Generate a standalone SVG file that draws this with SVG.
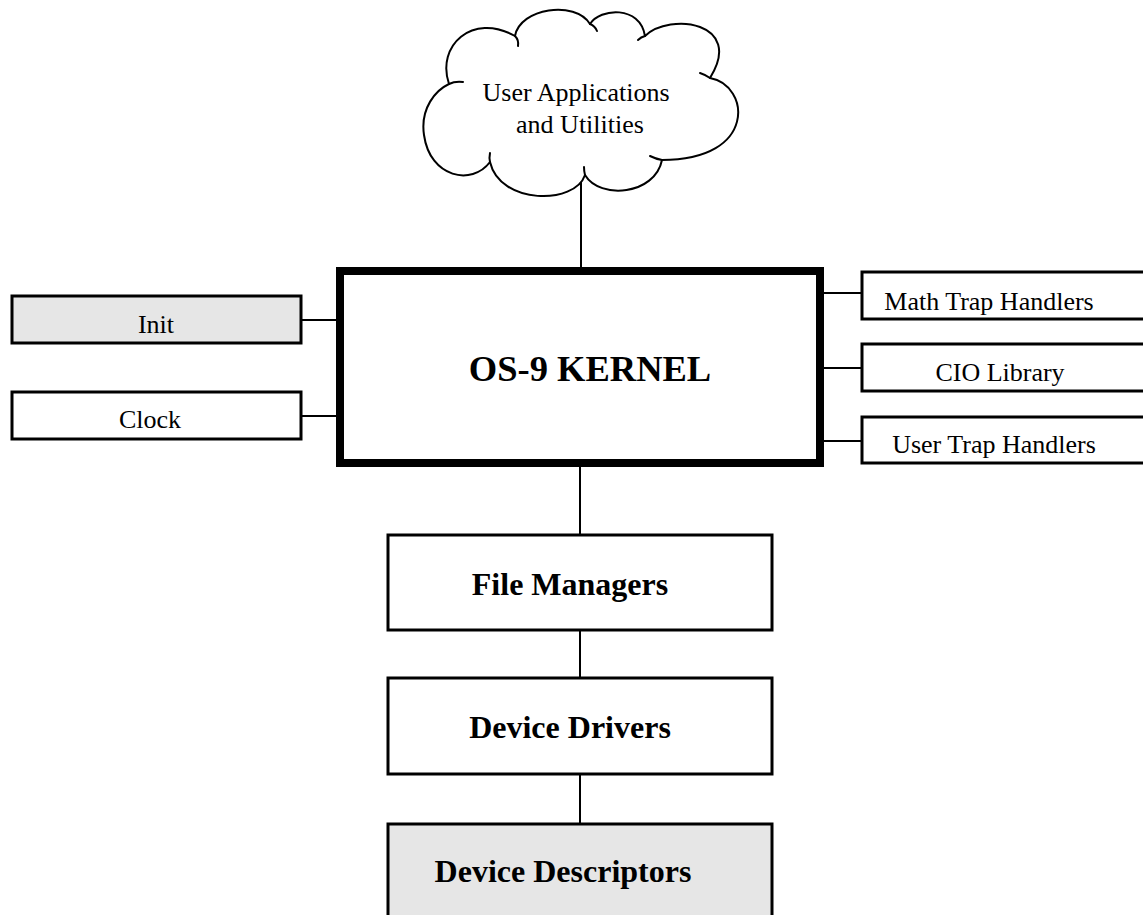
<svg xmlns="http://www.w3.org/2000/svg" width="1143" height="915" viewBox="0 0 1143 915">
  <style>
    .box { fill: #ffffff; stroke: #000000; stroke-width: 3; }
    .grey { fill: #e6e6e6; }
    .kernel { fill: #ffffff; stroke: #000000; stroke-width: 8; }
    .line { stroke: #000000; stroke-width: 2; fill: none; }
    .cloud { fill: #ffffff; stroke: #000000; stroke-width: 2; stroke-linejoin: round; }
    .hook { fill: none; stroke: #000000; stroke-width: 2; stroke-linecap: round; }
    .t { font-family: "Liberation Serif", "Times New Roman", serif; fill: #000000; text-anchor: middle; }
    .small { font-size: 26px; }
    .big { font-size: 32px; font-weight: bold; }
    .huge { font-size: 36.5px; font-weight: bold; }
  </style>

  <g id="connectors">
    <line class="line" x1="581" y1="176" x2="581" y2="268"/>
    <line class="line" x1="580" y1="466" x2="580" y2="536"/>
    <line class="line" x1="580" y1="630" x2="580" y2="678"/>
    <line class="line" x1="580" y1="774" x2="580" y2="823"/>
    <line class="line" x1="301" y1="320" x2="337" y2="320"/>
    <line class="line" x1="301" y1="416" x2="337" y2="416"/>
    <line class="line" x1="823" y1="293" x2="862" y2="293"/>
    <line class="line" x1="823" y1="368" x2="862" y2="368"/>
    <line class="line" x1="823" y1="441" x2="862" y2="441"/>
  </g>

  <g id="cloud-user-apps">
    <path class="cloud" d="M449,84 C436,46 472,12 515,36 C520,8 575,0 590,24 C600,8 640,5 645,36 C670,12 745,22 710,78 C750,85 758,160 662,160 C655,195 600,200 585,175 C575,205 500,205 490,162 C472,186 430,178 424,135 C420,108 436,90 449,84 Z"/>
    <path class="hook" d="M449,84 Q455,81 463,82"/>
    <path class="hook" d="M515,36 Q519,40 518,46"/>
    <path class="hook" d="M590,24 Q595,26 597,31"/>
    <path class="hook" d="M645,36 Q641,37 638,40"/>
    <path class="hook" d="M710,78 Q706,75 700,73"/>
    <path class="hook" d="M662,160 Q656,159 650,156"/>
    <path class="hook" d="M585,175 Q584,171 584,167"/>
    <path class="hook" d="M490,162 Q489,158 490,153"/>
    <text class="t small" x="576" y="101">User Applications</text>
    <text class="t small" x="580" y="133">and Utilities</text>
  </g>

  <g id="kernel">
    <rect class="kernel" x="340" y="271" width="480" height="192"/>
    <text class="t huge" x="590" y="381">OS-9 KERNEL</text>
  </g>

  <g id="init">
    <rect class="box grey" x="12" y="296" width="289" height="47"/>
    <text class="t small" x="156" y="333">Init</text>
  </g>

  <g id="clock">
    <rect class="box" x="12" y="392" width="289" height="47"/>
    <text class="t small" x="150" y="428">Clock</text>
  </g>

  <g id="math-trap">
    <rect class="box" x="862" y="272" width="290" height="47"/>
    <text class="t small" x="989" y="310">Math Trap Handlers</text>
  </g>

  <g id="cio-library">
    <rect class="box" x="862" y="344" width="290" height="47"/>
    <text class="t small" x="1000" y="381">CIO Library</text>
  </g>

  <g id="user-trap">
    <rect class="box" x="862" y="417" width="290" height="46"/>
    <text class="t small" x="994" y="453">User Trap Handlers</text>
  </g>

  <g id="file-managers">
    <rect class="box" x="388" y="535" width="384" height="95"/>
    <text class="t big" x="570" y="595">File Managers</text>
  </g>

  <g id="device-drivers">
    <rect class="box" x="388" y="678" width="384" height="96"/>
    <text class="t big" x="570" y="738">Device Drivers</text>
  </g>

  <g id="device-descriptors">
    <rect class="box grey" x="388" y="824" width="384" height="110"/>
    <text class="t big" x="563" y="882">Device Descriptors</text>
  </g>
</svg>
